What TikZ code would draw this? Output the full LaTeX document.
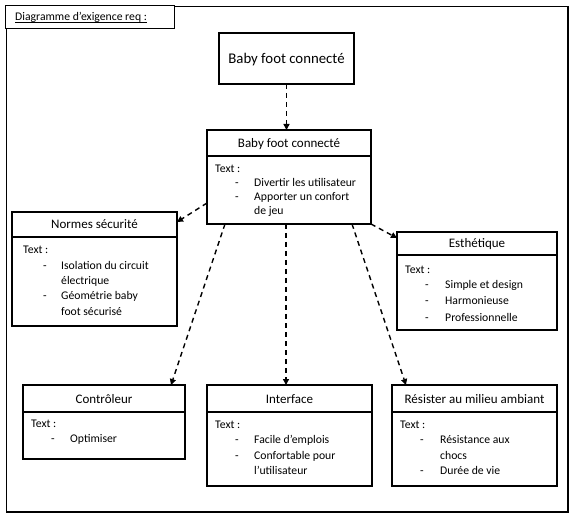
\documentclass[tikz,border=0pt]{standalone}
\usepackage{fontspec}
\setmainfont{Carlito}
\usetikzlibrary{arrows.meta,calc}
\begin{document}
\begin{tikzpicture}[x=1pt,y=-1pt,
  box/.style={draw,line width=1.3pt,minimum width=#1,inner sep=0pt,outer sep=0pt},
  dep/.style={line width=1.4pt,dash pattern=on 5pt off 4pt,-{Triangle[length=6pt,width=6pt]}},
  ttl/.style={anchor=base,inner sep=0pt,font=\fontsize{13}{15}\selectfont},
  txt/.style={anchor=base west,inner sep=0pt,font=\fontsize{11.7}{14}\selectfont},
  divl/.style={line width=1.3pt}]
\useasboundingbox (0,0) rectangle (575,518);
% outer frame and label
\draw[line width=1.3pt] (6.5,6.5) rectangle (568,512);
\node[draw,line width=1.3pt,fill=white,minimum width=169pt,minimum height=23pt,inner sep=0pt,anchor=north west] (lbl) at (5,5) {};
\node[txt] (lbltxt) at (15,21) {\underline{\smash{Diagramme d’exigence req :}}};
% top box
\node[box=135pt,minimum height=51pt] (top) at (286.5,58.5) {};
\node[anchor=base,inner sep=0pt,font=\fontsize{14.8}{17}\selectfont] (toptxt) at (286.5,63.5) {Baby foot connecté};
% main box
\node[box=164pt,minimum height=94pt] (main) at (289,177) {};
\draw[divl] (207,156) -- (371,156);
\node[ttl] (maint) at (289,147.5) {Baby foot connecté};
\node[txt] (main0) at (215,173) {Text :};
\node[txt] (main1d) at (235,187) {-};
\node[txt] (main1) at (254,187) {Divertir les utilisateur};
\node[txt] (main2d) at (235,201) {-};
\node[txt] (main2) at (254,201) {Apporter un confort};
\node[txt] (main3) at (254,215) {de jeu};
% normes
\node[box=165pt,minimum height=114pt] (norm) at (94.5,269) {};
\draw[divl] (12,237) -- (177,237);
\node[ttl] (normt) at (94.5,229) {Normes sécurité};
\node[txt] (norm0) at (23,254) {Text :};
\node[txt] (norm1d) at (43,270) {-};
\node[txt] (norm1) at (61,270) {Isolation du circuit};
\node[txt] (norm2) at (61,285) {électrique};
\node[txt] (norm3d) at (43,300) {-};
\node[txt] (norm3) at (61,300) {Géométrie baby};
\node[txt] (norm4) at (61,316) {foot sécurisé};
% esthetique
\node[box=160pt,minimum height=98pt] (esth) at (477,281) {};
\draw[divl] (397,255) -- (557,255);
\node[ttl] (estht) at (477,248) {Esthétique};
\node[txt] (esth0) at (405,274) {Text :};
\node[txt] (esth1d) at (425,289) {-};
\node[txt] (esth1) at (445,289) {Simple et design};
\node[txt] (esth2d) at (425,305) {-};
\node[txt] (esth2) at (445,305) {Harmonieuse};
\node[txt] (esth3d) at (425,321) {-};
\node[txt] (esth3) at (445,321) {Professionnelle};
% controleur
\node[box=162pt,minimum height=74pt] (ctrl) at (104,422) {};
\draw[divl] (23,412) -- (185,412);
\node[ttl] (ctrlt) at (104,403) {Contrôleur};
\node[txt] (ctrl0) at (31,427) {Text :};
\node[txt] (ctrl1d) at (51,442) {-};
\node[txt] (ctrl1) at (70,442) {Optimiser};
% interface
\node[box=165pt,minimum height=101pt] (intf) at (289.5,435.5) {};
\draw[divl] (207,412) -- (372,412);
\node[ttl] (intft) at (289.5,403) {Interface};
\node[txt] (intf0) at (215,428) {Text :};
\node[txt] (intf1d) at (235,443) {-};
\node[txt] (intf1) at (254,443) {Facile d’emplois};
\node[txt] (intf2d) at (235,459) {-};
\node[txt] (intf2) at (254,459) {Confortable pour};
\node[txt] (intf3) at (254,474) {l’utilisateur};
% resister
\node[box=165pt,minimum height=101pt] (res) at (474.5,435.5) {};
\draw[divl] (392,412) -- (557,412);
\node[ttl] (rest) at (474.5,403) {Résister au milieu ambiant};
\node[txt] (res0) at (400,428) {Text :};
\node[txt] (res1d) at (420,443) {-};
\node[txt] (res1) at (440,443) {Résistance aux};
\node[txt] (res2) at (440,459) {chocs};
\node[txt] (res3d) at (420,474) {-};
\node[txt] (res3) at (440,474) {Durée de vie};
% connectors
\draw[dep] (top.south) -- (top.south |- main.north);
\draw[dep] ([yshift=-26pt]main.west) -- ([yshift=-10pt]norm.north east);
\draw[dep] (main.south east) -- ([yshift=-6pt]esth.north west);
\draw[dep] ([xshift=18pt]main.south west) -- ([xshift=-14pt]ctrl.north east);
\draw[dep] ([xshift=79pt]main.south west) -- ([xshift=79pt]main.south west |- intf.north);
\draw[dep] ([xshift=-19pt]main.south east) -- ([xshift=14pt]res.north west);
\end{tikzpicture}
\end{document}
